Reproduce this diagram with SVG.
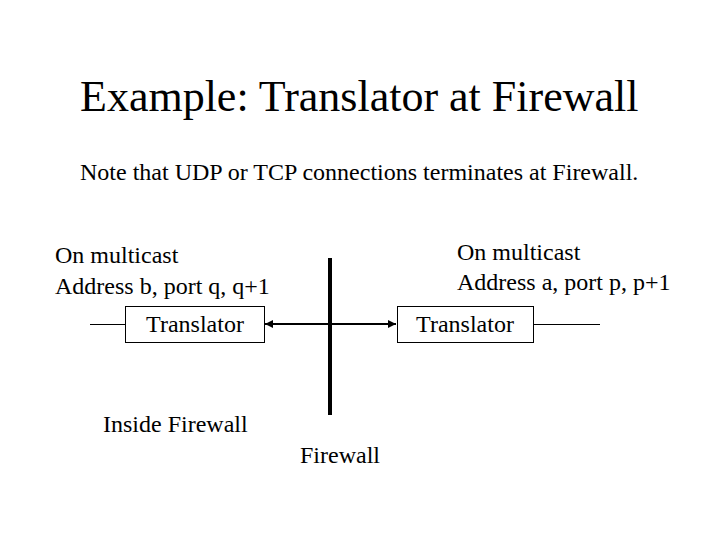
<svg xmlns="http://www.w3.org/2000/svg" width="720" height="540" viewBox="0 0 720 540" font-family="'Liberation Serif', 'Times New Roman', 'DejaVu Serif', serif">
  <style>
    text { font-family: "Liberation Serif", "Times New Roman", "DejaVu Serif", serif; fill: #000; }
    .title { font-size: 44px; }
    .body { font-size: 24px; }
    .box { fill: #fff; stroke: #000; stroke-width: 1; }
    .thin { stroke: #000; stroke-width: 1; fill: none; }
  </style>
  <defs>
    <marker id="arrowEnd" viewBox="0 0 10 10" refX="10" refY="5" markerWidth="4" markerHeight="4" orient="auto" markerUnits="strokeWidth">
      <path d="M0,0 L10,5 L0,10 z" fill="#000"/>
    </marker>
    <marker id="arrowStart" viewBox="0 0 10 10" refX="0" refY="5" markerWidth="4" markerHeight="4" orient="auto" markerUnits="strokeWidth">
      <path d="M10,0 L0,5 L10,10 z" fill="#000"/>
    </marker>
  </defs>
  <rect width="720" height="540" fill="#fff"/>

  <text class="title" x="80" y="111">Example: Translator at Firewall</text>
  <text class="body" x="80" y="180">Note that UDP or TCP connections terminates at Firewall.</text>

  <g id="firewall">
    <line x1="330" y1="258" x2="330" y2="415" stroke="#000" stroke-width="4"/>
    <text class="body" x="300" y="463">Firewall</text>
  </g>

  <g id="connectors">
    <line class="thin" x1="90" y1="324.5" x2="125" y2="324.5"/>
    <line class="thin" x1="533" y1="324.5" x2="600" y2="324.5"/>
    <line x1="265" y1="324" x2="396" y2="324" stroke="#000" stroke-width="2" marker-start="url(#arrowStart)" marker-end="url(#arrowEnd)"/>
  </g>

  <g id="translator-left">
    <rect class="box" x="125.5" y="306.5" width="139" height="36"/>
    <text class="body" x="195" y="332" text-anchor="middle">Translator</text>
  </g>

  <g id="translator-right">
    <rect class="box" x="397.5" y="306.5" width="136" height="36"/>
    <text class="body" x="465" y="332" text-anchor="middle">Translator</text>
  </g>

  <g id="label-left">
    <text class="body" x="55" y="263">On multicast</text>
    <text class="body" x="55" y="294">Address b, port q, q+1</text>
  </g>

  <g id="label-right">
    <text class="body" x="457" y="260">On multicast</text>
    <text class="body" x="457" y="290">Address a, port p, p+1</text>
  </g>

  <g id="inside">
    <text class="body" x="103" y="432">Inside Firewall</text>
  </g>
</svg>
